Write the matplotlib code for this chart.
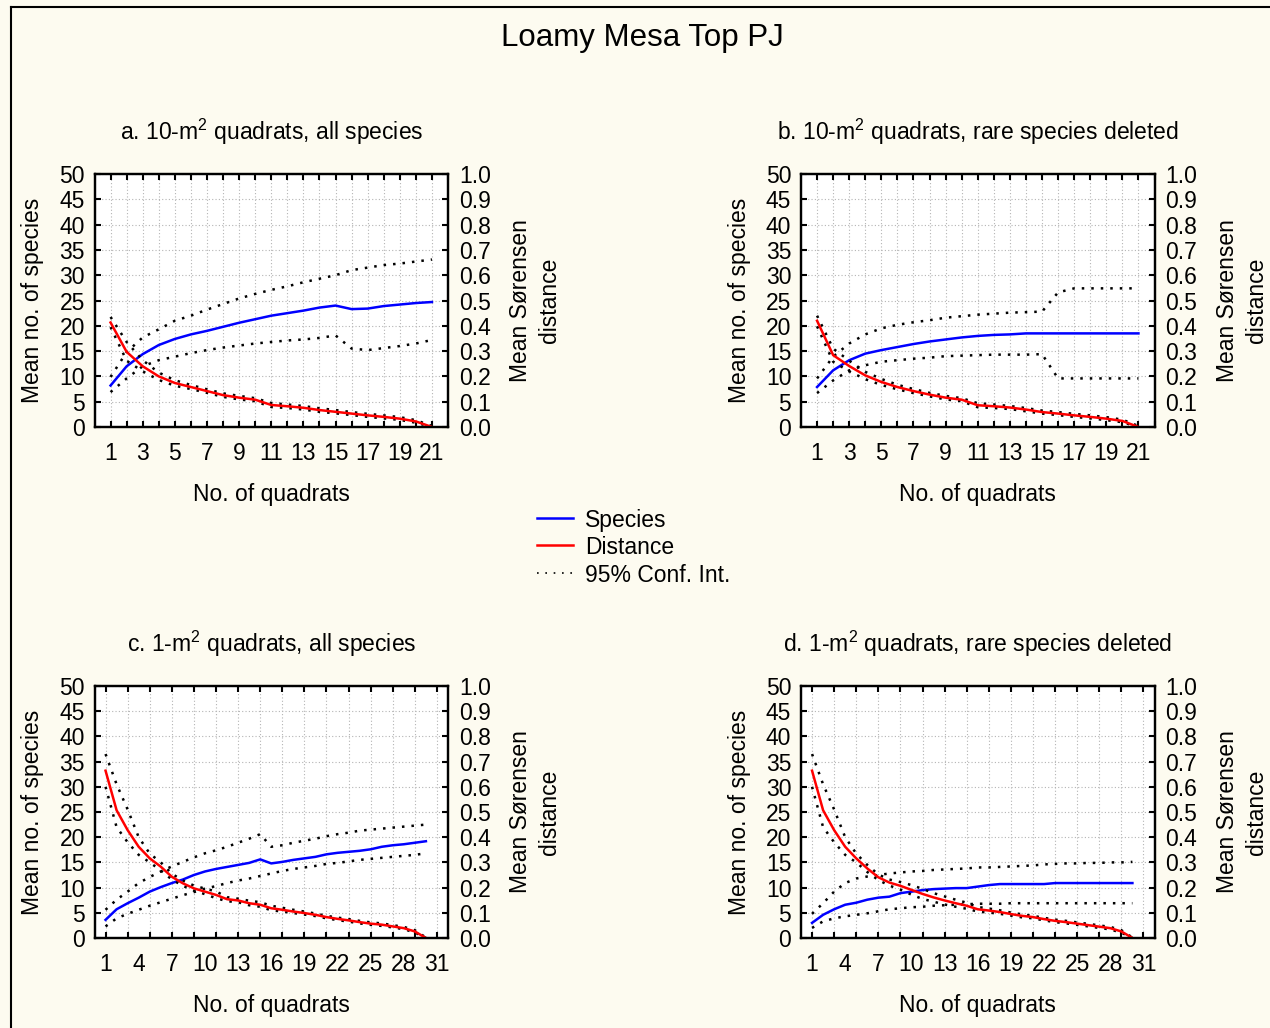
import matplotlib
matplotlib.use("Agg")
import matplotlib.pyplot as plt
from matplotlib.lines import Line2D
from matplotlib.ticker import FormatStrFormatter

# ---------------------------------------------------------------- data
quadrats_10m = list(range(1, 22))
quadrats_1m = list(range(1, 31))

# a. 10-m2 quadrats, all species
a_species = [8.2, 12.0, 14.4, 16.2, 17.4, 18.3, 19.0, 19.8, 20.6, 21.3, 22.0,
             22.5, 23.0, 23.6, 24.0, 23.3, 23.4, 23.9, 24.2, 24.5, 24.7]
a_species_hi = [9.9, 14.8, 17.7, 19.3, 21.0, 22.0, 23.2, 24.3, 25.4, 26.3, 27.1,
                27.8, 28.6, 29.3, 30.0, 31.0, 31.5, 32.0, 32.3, 32.7, 33.1]
a_species_lo = [6.9, 9.6, 12.0, 13.2, 13.9, 14.6, 15.2, 15.7, 16.1, 16.5, 16.8,
                17.1, 17.3, 17.6, 18.1, 15.5, 15.2, 15.6, 16.0, 16.5, 17.2]
a_dist = [0.413, 0.297, 0.240, 0.200, 0.174, 0.158, 0.142, 0.126, 0.116, 0.108, 0.087,
          0.082, 0.076, 0.067, 0.060, 0.053, 0.046, 0.040, 0.033, 0.022, 0.0]
a_dist_hi = [0.435, 0.336, 0.264, 0.215, 0.185, 0.166, 0.149, 0.133, 0.123, 0.114, 0.095,
             0.089, 0.083, 0.074, 0.067, 0.059, 0.052, 0.046, 0.039, 0.027, 0.004]
a_dist_lo = [0.395, 0.262, 0.220, 0.186, 0.163, 0.150, 0.135, 0.119, 0.109, 0.102, 0.079,
             0.075, 0.069, 0.060, 0.054, 0.047, 0.040, 0.034, 0.028, 0.017, 0.0]

# b. 10-m2 quadrats, rare species deleted
b_species = [7.9, 11.2, 13.2, 14.5, 15.2, 15.8, 16.4, 16.9, 17.3, 17.7, 18.0,
             18.2, 18.3, 18.5, 18.5, 18.5, 18.5, 18.5, 18.5, 18.5, 18.5]
b_species_hi = [9.6, 13.9, 16.5, 18.3, 19.5, 20.2, 20.7, 21.1, 21.6, 21.9, 22.2,
                22.4, 22.6, 22.7, 22.8, 26.6, 27.4, 27.4, 27.4, 27.4, 27.4]
b_species_lo = [6.7, 9.2, 11.2, 12.2, 12.9, 13.2, 13.5, 13.7, 14.0, 14.1, 14.2,
                14.3, 14.3, 14.3, 14.4, 9.6, 9.6, 9.6, 9.6, 9.6, 9.6]
b_dist = [0.420, 0.284, 0.241, 0.204, 0.178, 0.158, 0.142, 0.128, 0.116, 0.108, 0.086,
          0.082, 0.077, 0.069, 0.059, 0.053, 0.046, 0.040, 0.033, 0.024, 0.0]
b_dist_hi = [0.440, 0.310, 0.262, 0.218, 0.190, 0.167, 0.150, 0.135, 0.123, 0.114, 0.094,
             0.089, 0.083, 0.075, 0.065, 0.059, 0.052, 0.046, 0.039, 0.029, 0.004]
b_dist_lo = [0.398, 0.258, 0.220, 0.189, 0.166, 0.149, 0.134, 0.121, 0.109, 0.102, 0.078,
             0.075, 0.071, 0.062, 0.053, 0.047, 0.040, 0.034, 0.027, 0.019, 0.0]

# c. 1-m2 quadrats, all species
c_species = [3.6, 5.7, 6.9, 8.0, 9.2, 10.1, 10.9, 11.6, 12.5, 13.2, 13.7, 14.1, 14.5, 14.9, 15.6,
             14.8, 15.1, 15.5, 15.8, 16.1, 16.6, 16.9, 17.1, 17.3, 17.6, 18.1, 18.4, 18.6, 18.9, 19.2]
c_species_hi = [5.6, 7.6, 9.2, 10.9, 12.1, 13.2, 14.2, 15.1, 16.0, 16.8, 17.4, 18.1, 18.9, 19.7, 20.6,
                18.1, 18.4, 18.9, 19.3, 19.7, 20.2, 20.6, 20.9, 21.3, 21.5, 21.7, 21.9, 22.1, 22.3, 22.5]
c_species_lo = [2.3, 3.9, 4.8, 5.6, 6.4, 7.1, 7.8, 8.5, 9.1, 9.8, 10.3, 10.9, 11.4, 11.8, 12.3,
                12.8, 13.3, 13.7, 14.0, 14.3, 14.7, 14.9, 15.2, 15.5, 15.7, 15.9, 16.1, 16.3, 16.5, 16.8]
c_dist = [0.664, 0.507, 0.428, 0.362, 0.316, 0.283, 0.243, 0.217, 0.197, 0.184, 0.171, 0.154, 0.149,
          0.138, 0.132, 0.118, 0.112, 0.105, 0.099, 0.092, 0.083, 0.076, 0.070, 0.063, 0.057, 0.053,
          0.046, 0.039, 0.026, 0.0]
c_dist_hi = [0.730, 0.610, 0.510, 0.400, 0.335, 0.300, 0.255, 0.228, 0.208, 0.196, 0.185, 0.162, 0.156,
             0.148, 0.142, 0.128, 0.120, 0.112, 0.105, 0.097, 0.088, 0.081, 0.075, 0.068, 0.062, 0.058,
             0.051, 0.044, 0.031, 0.002]
c_dist_lo = [0.600, 0.440, 0.380, 0.330, 0.300, 0.268, 0.232, 0.207, 0.188, 0.174, 0.158, 0.146, 0.142,
             0.130, 0.124, 0.110, 0.105, 0.099, 0.093, 0.087, 0.078, 0.071, 0.065, 0.058, 0.052, 0.048,
             0.042, 0.035, 0.022, 0.0]

# d. 1-m2 quadrats, rare species deleted
d_species = [3.0, 4.6, 5.7, 6.6, 7.0, 7.6, 8.0, 8.2, 8.9, 9.2, 9.5, 9.7, 9.8, 9.9, 9.9,
             10.2, 10.5, 10.7, 10.7, 10.7, 10.7, 10.7, 10.9, 10.9, 10.9, 10.9, 10.9, 10.9, 10.9, 10.9]
d_species_hi = [4.8, 6.9, 9.2, 10.9, 11.8, 12.2, 12.5, 12.8, 13.0, 13.2, 13.3, 13.5, 13.6, 13.7, 13.8,
                14.0, 14.0, 14.1, 14.2, 14.3, 14.4, 14.6, 14.7, 14.8, 14.8, 14.9, 14.9, 15.0, 15.0, 15.1]
d_species_lo = [2.0, 3.3, 3.9, 4.3, 4.6, 4.9, 5.3, 5.7, 5.9, 6.1, 6.2, 6.4, 6.5, 6.6, 6.7,
                6.8, 6.8, 6.8, 6.9, 6.9, 6.9, 6.9, 6.9, 6.9, 6.9, 6.9, 6.9, 6.9, 6.9, 6.9]
d_dist = [0.664, 0.507, 0.428, 0.362, 0.316, 0.276, 0.241, 0.220, 0.207, 0.191, 0.175, 0.161, 0.149,
          0.138, 0.128, 0.114, 0.109, 0.103, 0.095, 0.088, 0.083, 0.075, 0.068, 0.063, 0.057, 0.051,
          0.045, 0.039, 0.026, 0.0]
d_dist_hi = [0.730, 0.610, 0.510, 0.400, 0.335, 0.290, 0.252, 0.232, 0.222, 0.210, 0.195, 0.178, 0.165,
             0.152, 0.140, 0.123, 0.117, 0.110, 0.101, 0.094, 0.088, 0.080, 0.073, 0.068, 0.062, 0.056,
             0.050, 0.044, 0.031, 0.002]
d_dist_lo = [0.600, 0.440, 0.380, 0.330, 0.300, 0.262, 0.230, 0.208, 0.192, 0.172, 0.155, 0.144, 0.133,
             0.124, 0.116, 0.105, 0.101, 0.096, 0.089, 0.082, 0.078, 0.070, 0.063, 0.058, 0.052, 0.046,
             0.040, 0.034, 0.021, 0.0]

panel_titles = ["a. 10-m$^2$ quadrats, all species",
                "b. 10-m$^2$ quadrats, rare species deleted",
                "c. 1-m$^2$ quadrats, all species",
                "d. 1-m$^2$ quadrats, rare species deleted"]
species_ticks = [0, 5, 10, 15, 20, 25, 30, 35, 40, 45, 50]
distance_ticks = [0.0, 0.1, 0.2, 0.3, 0.4, 0.5, 0.6, 0.7, 0.8, 0.9, 1.0]
legend_labels = ["Species", "Distance", "95% Conf. Int."]

# ---------------------------------------------------------------- styling
BG = "#fdfbf0"
BLUE = "#0000ff"
RED = "#ff0000"
TICK_FS = 16.5
LABEL_FS = 16.5
W, H = 1270, 1028

plt.rcParams["font.family"] = ["Liberation Sans", "DejaVu Sans"]
plt.rcParams["mathtext.fontset"] = "custom"
plt.rcParams["mathtext.rm"] = "Liberation Sans"
plt.rcParams["mathtext.it"] = "Liberation Sans:italic"
plt.rcParams["mathtext.bf"] = "Liberation Sans:bold"

fig = plt.figure(figsize=(W / 100, H / 100), dpi=100, facecolor=BG)


def fx(px):
    return px / W


def fy(py):
    return 1 - py / H


CI_STYLE = dict(color="black", linewidth=1.8, linestyle=(0, (1, 2.8)), dash_capstyle="butt")
GRID_STYLE = dict(color="#b4b4b4", linewidth=0.8, linestyle=(0, (1, 2)))

panels = [
    dict(left=94.5, top=174, bottom=427, x=quadrats_10m, xmax=22, tick_step=1, label_step=2,
         sp=a_species, sp_hi=a_species_hi, sp_lo=a_species_lo,
         d=a_dist, d_hi=a_dist_hi, d_lo=a_dist_lo),
    dict(left=801, top=174, bottom=427, x=quadrats_10m, xmax=22, tick_step=1, label_step=2,
         sp=b_species, sp_hi=b_species_hi, sp_lo=b_species_lo,
         d=b_dist, d_hi=b_dist_hi, d_lo=b_dist_lo),
    dict(left=94.5, top=686, bottom=938, x=quadrats_1m, xmax=32, tick_step=2, label_step=3,
         sp=c_species, sp_hi=c_species_hi, sp_lo=c_species_lo,
         d=c_dist, d_hi=c_dist_hi, d_lo=c_dist_lo),
    dict(left=801, top=686, bottom=938, x=quadrats_1m, xmax=32, tick_step=2, label_step=3,
         sp=d_species, sp_hi=d_species_hi, sp_lo=d_species_lo,
         d=d_dist, d_hi=d_dist_hi, d_lo=d_dist_lo),
]
AX_W = 353.5

for title, p in zip(panel_titles, panels):
    left, top, bottom = p["left"], p["top"], p["bottom"]
    ax = fig.add_axes([fx(left), fy(bottom), AX_W / W, (bottom - top) / H])
    ax.set_facecolor("white")
    ax.set_xlim(0, p["xmax"])
    ax.set_ylim(0, 50)
    ax2 = ax.twinx()
    ax2.set_ylim(0, 1)

    last = p["x"][-1]
    ax.set_xticks(list(range(1, last + 2, p["tick_step"])))
    label_pos = list(range(1, last + 2, p["label_step"]))
    ax.set_xticks(label_pos, minor=True)
    ax.set_xticklabels([str(v) for v in label_pos], minor=True)
    ax.xaxis.remove_overlapping_locs = False
    ax.tick_params(axis="x", which="major", direction="in", top=True, bottom=True,
                   length=4.5, width=1.5, labelbottom=False)
    ax.tick_params(axis="x", which="minor", direction="in", top=False, bottom=True,
                   length=0, labelsize=TICK_FS, pad=11)
    ax.set_yticks(species_ticks)
    ax.tick_params(axis="y", direction="in", left=True, right=False, length=4.5,
                   width=1.5, labelsize=TICK_FS, pad=7)
    ax2.set_yticks(distance_ticks)
    ax2.yaxis.set_major_formatter(FormatStrFormatter("%.1f"))
    ax2.tick_params(axis="y", direction="in", right=True, length=4.5, width=1.5,
                    labelsize=TICK_FS, pad=8)

    ax.grid(True, which="major", **GRID_STYLE)
    for a in (ax, ax2):
        for s in a.spines.values():
            s.set_linewidth(1.6)
            s.set_color("black")

    ax.plot(p["x"], p["sp_hi"], **CI_STYLE)
    ax.plot(p["x"], p["sp_lo"], **CI_STYLE)
    ax.plot(p["x"], p["sp"], color=BLUE, linewidth=1.8)
    ax2.plot(p["x"], p["d_hi"], **CI_STYLE)
    ax2.plot(p["x"], p["d_lo"], **CI_STYLE)
    ax2.plot(p["x"], p["d"], color=RED, linewidth=1.8)

    cx = left + AX_W / 2
    cy = (top + bottom) / 2
    fig.text(fx(cx), fy(top - 34), title, ha="center", va="baseline", fontsize=LABEL_FS)
    fig.text(fx(cx), fy(bottom + 74), "No. of quadrats", ha="center", va="baseline",
             fontsize=LABEL_FS)
    fig.text(fx(left - 55), fy(cy), "Mean no. of species", rotation=90,
             rotation_mode="anchor", ha="center", va="baseline", fontsize=LABEL_FS)
    fig.text(fx(left + AX_W + 79), fy(cy), "Mean Sørensen", rotation=90,
             rotation_mode="anchor", ha="center", va="baseline", fontsize=LABEL_FS)
    fig.text(fx(left + AX_W + 108), fy(cy), "distance", rotation=90,
             rotation_mode="anchor", ha="center", va="baseline", fontsize=LABEL_FS)

fig.text(fx(642.5), fy(46), "Loamy Mesa Top PJ", ha="center", va="baseline", fontsize=22.5)

# shared legend between the two rows
legend_styles = [dict(color=BLUE, linewidth=1.8),
                 dict(color=RED, linewidth=1.8),
                 dict(color="black", linewidth=1.2, linestyle=(0, (1, 4)))]
for i, (lab, st) in enumerate(zip(legend_labels, legend_styles)):
    base = 527 + i * 27.5
    fig.add_artist(Line2D([fx(537), fx(573)], [fy(base - 9.5)] * 2, **st))
    fig.text(fx(585), fy(base), lab, ha="left", va="baseline", fontsize=LABEL_FS)

# outer frame
fig.add_artist(Line2D([fx(11), fx(11)], [fy(7), 0], color="black", linewidth=1.5))
fig.add_artist(Line2D([fx(11), 1], [fy(7), fy(7)], color="black", linewidth=1.5))

fig.savefig("out.png", dpi=100, facecolor=BG)
